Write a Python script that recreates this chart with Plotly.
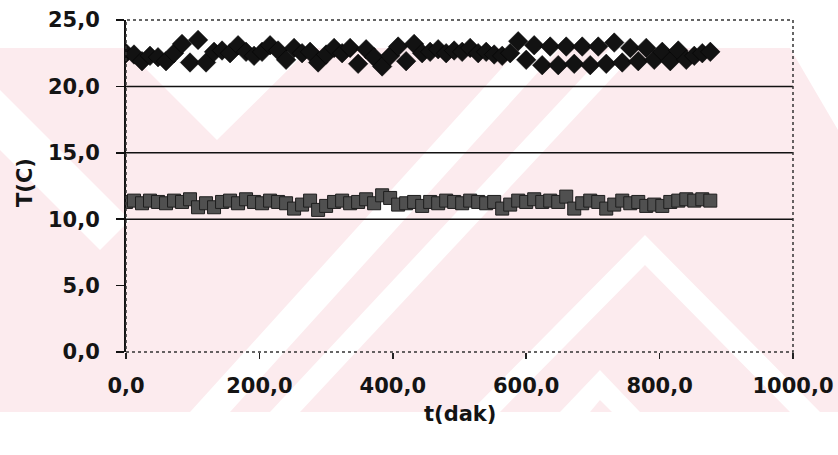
import plotly.graph_objects as go

# ---- data ----
t_min = [0, 12, 24, 36, 48, 60, 72, 84, 96, 108, 120, 132, 144, 156, 168, 180, 192, 204,
         216, 228, 240, 252, 264, 276, 288, 300, 312, 324, 336, 348, 360, 372, 384, 396,
         408, 420, 432, 444, 456, 468, 480, 492, 504, 516, 528, 540, 552, 564, 576, 588,
         600, 612, 624, 636, 648, 660, 672, 684, 696, 708, 720, 732, 744, 756, 768, 780,
         792, 804, 816, 828, 840, 852, 864, 876]

T_upper = [22.5, 22.4, 21.9, 22.3, 22.2, 21.9, 22.5, 23.2, 21.8, 23.5, 21.8, 22.6, 22.7, 22.5,
           23.1, 22.6, 22.3, 22.6, 23.1, 22.7, 22.0, 22.9, 22.5, 22.6, 21.8, 22.4, 22.9, 22.5,
           22.9, 21.7, 22.8, 22.2, 21.5, 22.3, 23.0, 21.9, 23.2, 22.5, 22.6, 22.8, 22.5, 22.7,
           22.6, 22.9, 22.5, 22.6, 22.4, 22.3, 22.5, 23.4, 22.0, 23.1, 21.6, 23.0, 21.6, 23.0,
           21.7, 23.0, 21.6, 23.0, 21.7, 23.3, 21.8, 22.9, 21.9, 22.9, 22.0, 22.6, 21.9, 22.7,
           22.0, 22.3, 22.5, 22.6]

T_lower = [11.3, 11.4, 11.2, 11.4, 11.3, 11.2, 11.4, 11.3, 11.5, 10.9, 11.2, 10.9, 11.3, 11.4,
           11.2, 11.5, 11.3, 11.2, 11.4, 11.3, 11.2, 10.8, 11.1, 11.4, 10.7, 11.0, 11.3, 11.4,
           11.2, 11.3, 11.5, 11.2, 11.8, 11.6, 11.1, 11.2, 11.3, 11.0, 11.3, 11.2, 11.4, 11.3,
           11.2, 11.4, 11.3, 11.2, 11.3, 10.8, 11.1, 11.4, 11.3, 11.5, 11.3, 11.4, 11.3, 11.7,
           10.8, 11.2, 11.4, 11.3, 10.8, 11.1, 11.4, 11.2, 11.3, 11.0, 11.1, 11.0, 11.3, 11.4,
           11.5, 11.4, 11.5, 11.4]

x_ticks = [0, 200, 400, 600, 800, 1000]
y_ticks = [0, 5, 10, 15, 20, 25]
grid_lines = [10, 15, 20]

# ---- layout geometry (pixels) ----
W, H = 838, 455
L, R, T, B = 126, 45, 20, 103
PW, PH = W - L - R, H - T - B
FONT = "DejaVu Sans"
INK = "#141414"


def px(x):
    return (x - L) / PW


def py(y):
    return (H - B - y) / PH


def poly(points, color):
    d = "M " + " L ".join(f"{px(a):.4f},{py(b):.4f}" for a, b in points) + " Z"
    return dict(type="path", xref="paper", yref="paper", path=d, fillcolor=color,
                line=dict(width=0), layer="below")


PINK = "#fcebee"
WHITE = "#ffffff"
shapes = [
    poly([(0, 48), (W, 48), (W, 412), (0, 412)], PINK),
    poly([(125, 48), (310, 48), (217, 140)], WHITE),
    poly([(0, 90), (0, 150), (100, 250), (130, 220)], WHITE),
    poly([(190, 412), (230, 412), (560, 48), (520, 48)], WHITE),
    poly([(270, 412), (300, 412), (640, 48), (610, 48)], WHITE),
    poly([(470, 412), (500, 412), (645, 265), (790, 412), (820, 412), (645, 235)], WHITE),
    poly([(560, 412), (590, 412), (600, 400), (612, 412), (640, 412), (600, 370)], WHITE),
    poly([(790, 48), (W, 48), (W, 130)], WHITE),
]

fig = go.Figure()
fig.add_trace(go.Scatter(
    x=t_min, y=T_lower, mode="markers", name="T2",
    marker=dict(symbol="square", size=13, color="#505050",
                line=dict(color="#1e1e1e", width=1)),
))
fig.add_trace(go.Scatter(
    x=t_min, y=T_upper, mode="markers", name="T1",
    marker=dict(symbol="diamond", size=15, color="#121212",
                line=dict(color="#000000", width=0.5)),
))

for g in grid_lines:
    shapes.append(dict(type="line", xref="paper", x0=0, x1=1, yref="y", y0=g, y1=g,
                       line=dict(color="#111111", width=1.5), layer="below"))
shapes.append(dict(type="rect", xref="paper", yref="paper", x0=0, x1=1, y0=0, y1=1,
                   line=dict(color="#333333", width=1.5, dash="dot"), layer="above"))

fig.update_layout(
    width=W, height=H,
    margin=dict(l=L, r=R, t=T, b=B, pad=0, autoexpand=False),
    paper_bgcolor="white", plot_bgcolor="rgba(0,0,0,0)",
    separators=",.",
    showlegend=False,
    font=dict(family=FONT, size=21, color=INK),
    shapes=shapes,
    xaxis=dict(range=[0, 1000], tickvals=x_ticks, tickformat=".1f", automargin=False,
               showgrid=False, zeroline=False, showline=False,
               ticks="outside", ticklen=6, tickwidth=1.5, tickcolor="#222",
               ticklabelstandoff=9,
               tickfont=dict(family=FONT, size=21, color=INK, weight="bold")),
    yaxis=dict(range=[0, 25], tickvals=y_ticks, tickformat=".1f", automargin=False,
               showgrid=False, zeroline=False, showline=True, linecolor="#111",
               linewidth=2, ticks="outside", ticklen=8, tickwidth=1.5, tickcolor="#111",
               ticklabelstandoff=12,
               tickfont=dict(family=FONT, size=21, color=INK, weight="bold")),
    annotations=[
        dict(text="<b>t(dak)</b>", xref="paper", yref="paper", x=px(460), y=py(414),
             showarrow=False, xanchor="center", yanchor="middle",
             font=dict(family=FONT, size=21, color=INK)),
        dict(text="<b>T(C)</b>", xref="paper", yref="paper", x=px(25), y=py(183),
             showarrow=False, xanchor="center", yanchor="middle", textangle=-90,
             font=dict(family=FONT, size=21, color=INK)),
    ],
)

fig.write_html("out.html",
               config={"displayModeBar": False, "staticPlot": True},
               post_script="document.body.style.margin='0';document.body.style.overflow='hidden';")
